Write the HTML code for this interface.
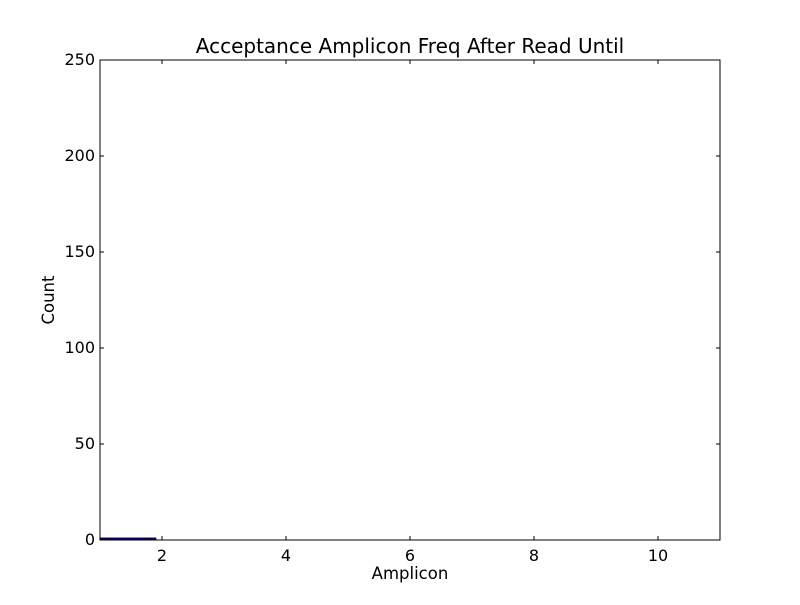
<!DOCTYPE html>
<html><head><meta charset="utf-8"><style>
body{margin:0;background:#fff;}
text{font-family:"DejaVu Sans","Liberation Sans",sans-serif;}
</style></head><body>
<svg id="chart" width="800" height="600" xmlns="http://www.w3.org/2000/svg">
<rect width="800" height="600" fill="#fff"/>
<g id="bars"></g>
<g id="axes"></g>
<text x="410" y="53" font-size="20" text-anchor="middle">Acceptance Amplicon Freq After Read Until</text>
<text x="410" y="579" font-size="16.5" text-anchor="middle">Amplicon</text>
<text x="54" y="300" font-size="16.5" text-anchor="middle" transform="rotate(-90 54 300)">Count</text>
</svg>
<script>
const categories=[1,2,3,4,5,6,7,8,9,10];
const counts=[1,0,0,0,0,0,0,0,0,0];
const xTicks=[2,4,6,8,10];
const yTicks=[0,50,100,150,200,250];
const L=100,R=720,T=60,B=540,xmin=1,xmax=11,ymax=250,barW=0.9;
const xs=v=>L+(v-xmin)/(xmax-xmin)*(R-L);
const ys=v=>B-v/ymax*(B-T);
const NS="http://www.w3.org/2000/svg";
const bars=document.getElementById('bars'),axes=document.getElementById('axes');
function mk(tag,at,parent){const e=document.createElementNS(NS,tag);for(const k in at)e.setAttribute(k,at[k]);parent.appendChild(e);return e;}
categories.forEach((c,i)=>{
  const x0=xs(c),x1=xs(c+barW),y=ys(counts[i]);
  const r=mk('rect',{x:x0,y:y,width:x1-x0,height:Math.max(B-y,0),fill:'#0000bf',stroke:'#000','stroke-width':1},bars);
  
  
});
const f=mk('rect',{x:L,y:T,width:R-L,height:B-T,fill:'none',stroke:'#000','stroke-width':1},axes);


xTicks.forEach(v=>{
  const x=xs(v);
  mk('line',{x1:x,x2:x,y1:B,y2:B-4,stroke:'#000'},axes);
  mk('line',{x1:x,x2:x,y1:T,y2:T+4,stroke:'#000'},axes);
  const t=mk('text',{x:x,y:B+21,'font-size':16,'text-anchor':'middle'},axes);
  t.textContent=v;
  
  
});
yTicks.forEach(v=>{
  const y=ys(v);
  mk('line',{x1:L,x2:L+4,y1:y,y2:y,stroke:'#000'},axes);
  mk('line',{x1:R,x2:R-4,y1:y,y2:y,stroke:'#000'},axes);
  const t=mk('text',{x:L-5,y:y+5,'font-size':16,'text-anchor':'end'},axes);
  t.textContent=v;
  
  
});
</script>
</body></html>
